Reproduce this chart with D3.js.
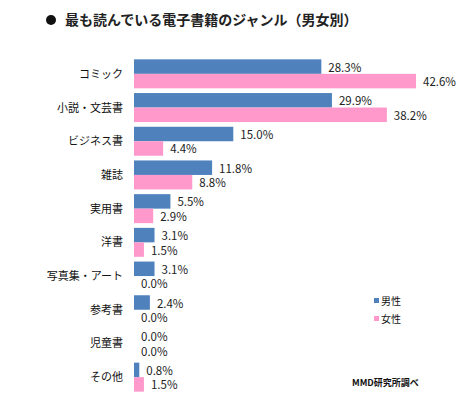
<!DOCTYPE html>
<meta charset="utf-8">
<script src="https://d3js.org/d3.v7.min.js"></script>
<style>
  body { margin: 0; background: #fff; }
  text { font-family: "Noto Sans CJK JP", "Noto Sans", sans-serif; }
</style>
<svg id="chart" width="467" height="398"></svg>
<script>
  // categories and values (percent)
  var genres = ["コミック", "小説・文芸書", "ビジネス書", "雑誌", "実用書", "洋書", "写真集・アート", "参考書", "児童書", "その他"];
  var male = [28.3, 29.9, 15.0, 11.8, 5.5, 3.1, 3.1, 2.4, 0.0, 0.8];
  var female = [42.6, 38.2, 4.4, 8.8, 2.9, 1.5, 0.0, 0.0, 0.0, 1.5];
  var seriesNames = ["男性", "女性"];
  var colors = ["#4f81bd", "#ff99cc"];

  var svg = d3.select("#chart");

  // title
  svg.append("circle").attr("cx", 51).attr("cy", 20).attr("r", 5).attr("fill", "#111");
  svg.append("text")
    .attr("x", 65).attr("y", 25)
    .attr("font-size", 14).attr("font-weight", "bold").attr("fill", "#222")
    .text("最も読んでいる電子書籍のジャンル（男女別）");

  var x = d3.scaleLinear().domain([0, 42.6]).range([134, 416]);
  var y = d3.scaleBand().domain(genres).range([57, 394]).paddingInner(0.14).paddingOuter(0.07);
  var sub = d3.scaleBand().domain([0, 1]).range([0, y.bandwidth()]);

  // category labels
  svg.append("g").selectAll("text")
    .data(genres).enter().append("text")
    .attr("x", 123)
    .attr("y", function(d) { return y(d) + y.bandwidth() / 2 + 4; })
    .attr("text-anchor", "end")
    .attr("font-size", 11).attr("fill", "#111")
    .text(function(d) { return d; });

  [male, female].forEach(function(vals, s) {
    var g = svg.append("g");
    g.selectAll("rect")
      .data(vals).enter().append("rect")
      .attr("x", x(0))
      .attr("y", function(d, i) { return y(genres[i]) + sub(s); })
      .attr("width", function(d) { return x(d) - x(0); })
      .attr("height", sub.bandwidth())
      .attr("fill", colors[s]);
    g.selectAll("text")
      .data(vals).enter().append("text")
      .attr("x", function(d) { return x(d) + 7; })
      .attr("y", function(d, i) { return y(genres[i]) + sub(s) + sub.bandwidth() / 2 + 5; })
      .attr("font-family", "Arial, 'Liberation Sans', sans-serif")
      .attr("font-size", 11.5).attr("fill", "#222")
      .text(function(d) { return d.toFixed(1) + "%"; });
  });

  // legend
  var legend = svg.append("g");
  seriesNames.forEach(function(n, i) {
    legend.append("rect").attr("x", 374).attr("y", 298 + i * 18).attr("width", 5).attr("height", 5).attr("fill", colors[i]);
    legend.append("text").attr("x", 381).attr("y", 305 + i * 18)
      .attr("font-size", 10).attr("fill", "#111").text(n);
  });

  svg.append("text")
    .attr("x", 352).attr("y", 386)
    .attr("font-size", 9).attr("font-weight", "bold").attr("fill", "#111")
    .text("MMD研究所調べ");
</script>
